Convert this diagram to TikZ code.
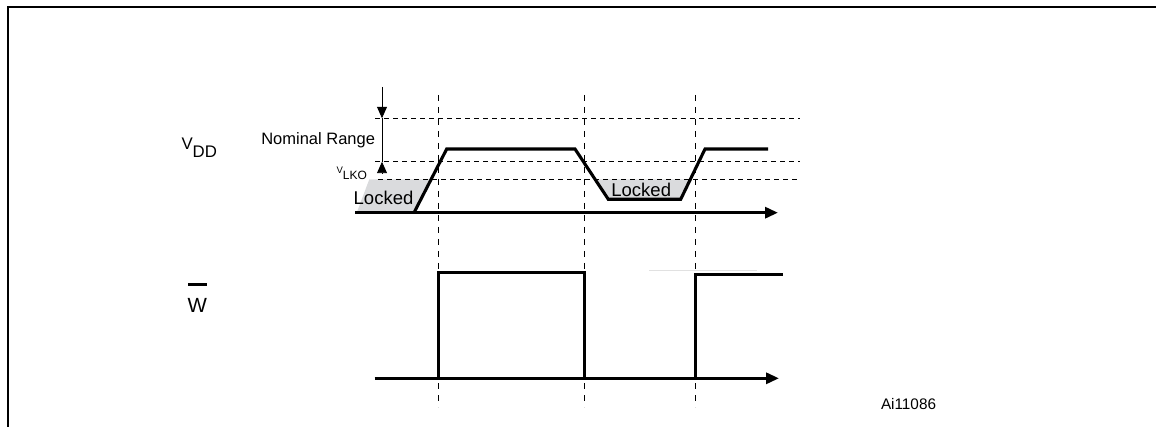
\documentclass[tikz,border=0pt]{standalone}
\usepackage{fontspec}
\setmainfont{Liberation Sans}
\usetikzlibrary{arrows.meta}
\definecolor{lockgrey}{RGB}{218,219,221}
\definecolor{faintgrey}{RGB}{225,225,225}
\tikzset{
  sig/.style={line width=3.1pt, line join=miter},
  guide/.style={line width=1.1pt, dash pattern=on 5pt off 4pt},
  vguide/.style={line width=1.1pt, dash pattern=on 6pt off 6pt},
  dimline/.style={line width=0.9pt},
  axisarrow/.style={sig, -{Triangle[length=13pt,width=11pt]}},
  dimtip/.style={dimline, -{Triangle[length=11.5pt,width=10pt]}},
  lockarea/.style={fill=lockgrey, draw=none},
  frameline/.style={line width=2.4pt},
  lbl/.style={inner sep=0pt, outer sep=0pt}
}
\begin{document}
\begin{tikzpicture}[x=1pt,y=-1pt]
\useasboundingbox (0,0) rectangle (1156,427);
% frame
\draw[frameline] (1157,7) -- (8,7) -- (8,428);

% grey locked areas
\fill[lockarea] (356.7,212.7) -- (369.3,179.3) -- (430.5,179.3) -- (414,212.7) -- cycle;
\fill[lockarea] (595,179.3) -- (608.3,199.3) -- (680.7,199.3) -- (690.4,179.3) -- cycle;

% horizontal guide lines
\coordinate (gtopL) at (375,118.3);  \coordinate (gtopR) at (800,118.3);
\coordinate (gmidL) at (375,161.7);  \coordinate (gmidR) at (800,161.7);
\coordinate (glkoL) at (378,179.3);  \coordinate (glkoR) at (800,179.3);
\draw[guide] (gtopL) -- (gtopR);
\draw[guide] (gmidL) -- (gmidR);
\draw[guide] (glkoL) -- (glkoR);

% vertical guide lines
\foreach \xx/\nm in {438.5/a,584.5/b,695.5/c}{
  \coordinate (vt\nm) at (\xx,95);
  \coordinate (vb\nm) at (\xx,407);
  \draw[vguide] (vt\nm) -- (vb\nm);
}

% dimension arrows
\coordinate (dimtop) at (382,87);
\coordinate (dimA) at (382,118.3);
\coordinate (dimB) at (382,161.7);
\coordinate (dimC) at (382,174);
\draw[dimtip] (dimtop) -- (dimA);
\draw[dimline] (dimA) -- (dimB);
\draw[dimtip] (dimC) -- (dimB);

% VDD axis and signal
\coordinate (vaxL) at (355,212.7);
\coordinate (vaxR) at (778,212.7);
\draw[axisarrow] (vaxL) -- (vaxR);
\draw[sig] (414,212.7) -- (446.7,149) -- (575,149) -- (608.3,199.3)
  -- (680.7,199.3) -- (705,149) -- (768,149);

% W axis and signal
\coordinate (waxL) at (374.6,378.3);
\coordinate (waxR) at (779,378.3);
\draw[axisarrow] (waxL) -- (waxR);
\draw[sig] (438.5,378.3) -- (438.5,272.4) -- (584.5,272.4) -- (584.5,378.3);
\draw[line width=1pt, faintgrey] (649,271) -- (756.6,271);
\draw[sig] (695.5,378.3) -- (695.5,274.7) -- (783,274.7);

% labels
\node[lbl, anchor=base west] (vdd) at (181.5,149.3)
  {\fontsize{16.8}{18}\selectfont V\raisebox{-8pt}{DD}};
\node[lbl, anchor=base east] (nom) at (375,145)
  {\fontsize{16.5}{18}\selectfont Nominal Range};
\node[lbl, anchor=base west] (vlko) at (336.5,173.3)
  {\fontsize{9.5}{10}\selectfont V\raisebox{-6.7pt}{\fontsize{12}{12}\selectfont LKO}};
\node[lbl, anchor=base west] (lockA) at (353.7,205)
  {\fontsize{18.5}{20}\selectfont Locked};
\node[lbl, anchor=base west] (lockB) at (611.4,196.7)
  {\fontsize{18.5}{20}\selectfont Locked};
\node[lbl, anchor=base west] (wlbl) at (187.5,312.7)
  {\fontsize{20.5}{22}\selectfont W};
\coordinate (barL) at (188,285);
\coordinate (barR) at (206.5,285);
\draw[line width=3pt] (barL) -- (barR);
\node[lbl, anchor=base west] (fig) at (881,409.3)
  {\fontsize{15.3}{17}\selectfont Ai11086};
\end{tikzpicture}
\end{document}
